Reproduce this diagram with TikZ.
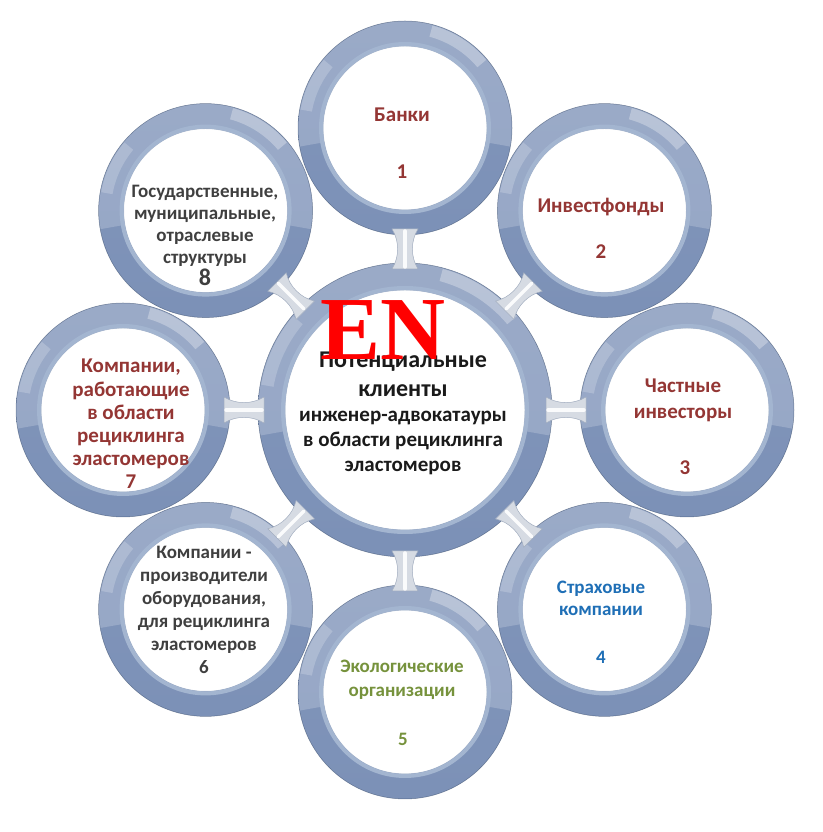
\documentclass[tikz,border=0pt]{standalone}
\usepackage{fontspec}
\setmainfont{Carlito}
\newfontfamily\enfont{Liberation Serif}
\usetikzlibrary{calc}
\definecolor{ringA}{HTML}{8195BA}
\definecolor{ringB}{HTML}{3C5D93}
\definecolor{ringC}{HTML}{7C91B7}
\definecolor{rimc}{HTML}{A3B5D0}
\definecolor{discedge}{HTML}{C3CCDA}
\definecolor{connfill}{HTML}{D6DBE3}
\definecolor{connedge}{HTML}{A3AEC0}
\definecolor{txtred}{HTML}{943634}
\definecolor{txtblue}{HTML}{1F6FB6}
\definecolor{txtgreen}{HTML}{76923C}
\definecolor{txtgray}{HTML}{3F3F3F}
\definecolor{txtblack}{HTML}{1A1A1A}
\definecolor{enred}{HTML}{FF0000}

\newcommand\myring[3]{%
  \pgfmathsetmacro\rimR{#3+2}%
  \pgfmathsetmacro\hlA{(#2+#3)/2}%
  \pgfmathsetmacro\hlB{#2-1}%
  \shade[even odd rule, top color=ringA, middle color=ringB, bottom color=ringC]
    (#1) circle[radius=#2] (#1) circle[radius=#3];
  \fill[white, opacity=0.20] ($(#1)+(-10:#2)$) arc[start angle=-10, end angle=190, radius=#2]
    -- ($(#1)+(190:#3)$) arc[start angle=190, end angle=-10, radius=#3] -- cycle;
  \fill[white, opacity=0.30] ($(#1)+(40:\hlB)$) arc[start angle=40, end angle=75, radius=\hlB]
    -- ($(#1)+(75:\hlA)$) arc[start angle=75, end angle=40, radius=\hlA] -- cycle;
  \fill[white, opacity=0.20] ($(#1)+(140:\hlB)$) arc[start angle=140, end angle=170, radius=\hlB]
    -- ($(#1)+(170:\hlA)$) arc[start angle=170, end angle=140, radius=\hlA] -- cycle;
  \draw[rimc, line width=4pt] (#1) circle[radius=\rimR];
  \draw[ringB!60!black, line width=0.5pt, opacity=0.5] (#1) circle[radius=#2];
}

\tikzset{
  disc/.style={circle, fill=white, draw=discedge, line width=0.8pt, inner sep=0pt},
  lab/.style={align=center, inner sep=0pt},
  conn/.style={fill=connfill, draw=connedge, line width=0.5pt},
  connhl/.style={white, line width=3.5pt, opacity=0.9, line cap=round}
}

\begin{document}
\begin{tikzpicture}[x=1pt,y=1pt]
\useasboundingbox (0,0) rectangle (822,832);
\fill[white] (0,0) rectangle (822,832);

\coordinate (C) at (405,422);
\foreach \i/\a in {1/90,2/45,3/0,4/-45,5/-90,6/-135,7/180,8/135}{
  \coordinate (p\i) at ($(C)+(\a:282)$);
}

% discs
\node[disc, minimum size=240pt] (c) at (C) {};
\foreach \i in {1,...,8}{
  \node[disc, minimum size=164pt] (s\i) at (p\i) {};
}

% rings
\myring{c}{147}{120}
\foreach \i in {1,...,8}{
  \myring{s\i}{107}{82}
}

% connectors
\foreach \i in {1,...,8}{
  \coordinate (A) at ($(c)!141pt!(s\i)$);
  \coordinate (M1) at ($(c)!153pt!(s\i)$);
  \coordinate (M2) at ($(c)!169pt!(s\i)$);
  \coordinate (B) at ($(c)!181pt!(s\i)$);
  \filldraw[conn] ($(A)!13pt!90:(s\i)$)
     .. controls ($(M1)!5.5pt!90:(s\i)$) and ($(M2)!5.5pt!90:(s\i)$) .. ($(B)!13pt!90:(s\i)$)
     -- ($(B)!13pt!-90:(s\i)$)
     .. controls ($(M2)!5.5pt!-90:(s\i)$) and ($(M1)!5.5pt!-90:(s\i)$) .. ($(A)!13pt!-90:(s\i)$)
     -- cycle;
  \draw[connhl] ($(A)!2pt!(s\i)$) -- ($(B)!-2pt!(s\i)$);
}

% satellite texts
\node[lab, text=txtred, font=\fontsize{21}{25}\selectfont\bfseries] (t1) at (402,717) {Банки};
\node[lab, text=txtred, font=\fontsize{21}{25}\selectfont\bfseries] (n1) at (402,660) {1};
\node[lab, text=txtred, font=\fontsize{21}{25}\selectfont\bfseries] (t2) at (601,625) {Инвестфонды};
\node[lab, text=txtred, font=\fontsize{21}{25}\selectfont\bfseries] (n2) at (601,580) {2};
\node[lab, text=txtred, font=\fontsize{21}{26}\selectfont\bfseries] (t3) at (683,432) {Частные\\инвесторы};
\node[lab, text=txtred, font=\fontsize{21}{25}\selectfont\bfseries] (n3) at (685,364) {3};
\node[lab, text=txtblue, font=\fontsize{19}{22}\selectfont\bfseries] (t4) at (601,234) {Страховые\\компании};
\node[lab, text=txtblue, font=\fontsize{19}{22}\selectfont\bfseries] (n4) at (601,175) {4};
\node[lab, text=txtgreen, font=\fontsize{19}{24}\selectfont\bfseries] (t5) at (402,152) {Экологические\\организации};
\node[lab, text=txtgreen, font=\fontsize{19}{22}\selectfont\bfseries] (n5) at (403,93) {5};
\node[lab, text=txtgray, font=\fontsize{19}{23}\selectfont\bfseries] (t6) at (204,222) {Компании -\\производители\\оборудования,\\для рециклинга\\эластомеров\\6};
\node[lab, text=txtred, font=\fontsize{21}{23.2}\selectfont\bfseries] (t7) at (131,408) {Компании,\\работающие\\в области\\рециклинга\\эластомеров\\7};
\node[lab, text=txtgray, font=\fontsize{19}{22}\selectfont\bfseries] (t8) at (205,597) {Государственные,\\муниципальные,\\отраслевые\\структуры\\{\fontsize{24}{24}\selectfont 8}};

% centre texts
\node[lab, text=txtblack, font=\fontsize{24}{29}\selectfont\bfseries] (c1) at (403,458) {Потенциальные\\клиенты};
\node[lab, text=txtblack, font=\fontsize{21}{25}\selectfont\bfseries] (c2) at (403,389) {инженер-адвокатауры\\в области рециклинга\\эластомеров};

% overlay
\node[anchor=base, text=enred, inner sep=0pt, font=\enfont\bfseries\fontsize{90}{90}\selectfont] (en) at (383,472) {EN};
\end{tikzpicture}
\end{document}
